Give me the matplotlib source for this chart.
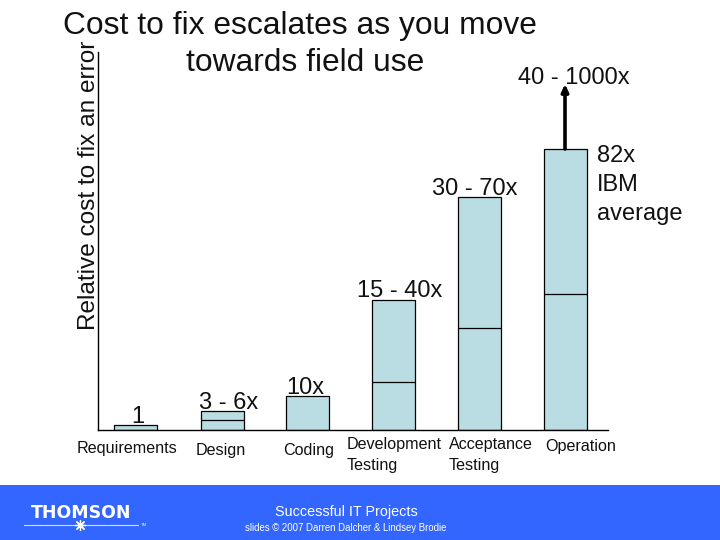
import matplotlib
matplotlib.use("Agg")
import matplotlib.pyplot as plt
from matplotlib.patches import Rectangle

plt.rcParams['font.family'] = ['Liberation Sans', 'DejaVu Sans']

W, H = 720, 540
categories = ["Requirements", "Design", "Coding", "Development\nTesting", "Acceptance\nTesting", "Operation"]
bar_tops = [5, 19, 34, 130, 233, 281]
bar_marks = [None, 10, None, 48, 102, 136]
range_labels = ["1", "3 - 6x", "10x", "15 - 40x", "30 - 70x", "40 - 1000x"]
arrow_tip = 346
y_label = "Relative cost to fix an error"
title_lines = ["Cost to fix escalates as you move", "towards field use"]
note = "82x\nIBM\naverage"
footer_title = "Successful IT Projects"
footer_sub = "slides © 2007 Darren Dalcher & Lindsey Brodie"
logo = "THOMSON"

BAR = '#b9dde2'
BLUE = '#3366ff'

fig = plt.figure(figsize=(W/100, H/100), dpi=100, facecolor='white')

def fx(px): return px / W
def fy(py): return 1 - py / H

ax = fig.add_axes([98/W, 1 - 430/H, (608-98)/W, (430-52)/H])
ax.set_xlim(98, 608)
ax.set_ylim(0, 378)
for s in ['top', 'right']:
    ax.spines[s].set_visible(False)
for s in ['left', 'bottom']:
    ax.spines[s].set_linewidth(1.0)
    ax.spines[s].set_color('black')
ax.set_xticks([]); ax.set_yticks([])
ax.patch.set_alpha(0)

centers = [135.5, 222, 307, 393, 479, 565]
bw = 43
ax.bar(centers, bar_tops, width=bw, color=BAR, edgecolor='black', linewidth=0.9, zorder=2)
for c, m in zip(centers, bar_marks):
    if m is not None:
        ax.plot([c - bw/2, c + bw/2], [m, m], color='black', lw=0.9, zorder=3, solid_capstyle='butt')

ax.annotate("", xy=(centers[5], arrow_tip), xytext=(centers[5], bar_tops[5]),
            arrowprops=dict(arrowstyle='-|>,head_length=0.3,head_width=0.14', lw=2.6,
                            color='black', shrinkA=0, shrinkB=0, mutation_scale=14), zorder=4)

fs = 17
range_pos = [(138, 417), (229, 403), (305, 388), (400, 291), (474.5, 189), (574, 78)]
for (x, y), t in zip(range_pos, range_labels):
    fig.text(fx(x), fy(y), t, ha='center', va='center', fontsize=fs, color='#111111')

fig.text(fx(597), fy(185), note, ha='left', va='center', fontsize=fs, linespacing=1.39, color='#111111')

label_pos = [(77, 449), (196, 451), (283, 451), (347, 455), (449, 455), (545, 447)]
for (x, y), t in zip(label_pos, categories):
    fig.text(fx(x), fy(y), t, ha='left', va='center', fontsize=11.6, color='#111111', linespacing=1.5)

fig.text(fx(300), fy(26), title_lines[0], ha='center', va='center', fontsize=22.9, color='#111111')
fig.text(fx(305), fy(63), title_lines[1], ha='center', va='center', fontsize=22.9, color='#111111')
fig.text(fx(89), fy(185.5), y_label, rotation=90, ha='center', va='center', fontsize=17.6, color='#111111')

fig.patches.append(Rectangle((0, 0), 1, 1 - 485/H, transform=fig.transFigure, facecolor=BLUE, edgecolor='none'))
fig.text(fx(346), fy(512), footer_title, ha='center', va='center', fontsize=10.4, color='white')
fig.text(fx(346), fy(528), footer_sub, ha='center', va='center', fontsize=6.9, color='white')
fig.text(fx(81), fy(512.5), logo, ha='center', va='center', fontsize=12.5, color='white',
         fontweight='bold', family='DejaVu Sans')
fig.add_artist(plt.Line2D([fx(24), fx(138)], [fy(525), fy(525)], color='white', lw=0.8, alpha=0.8))
fig.add_artist(plt.Line2D([fx(80)], [fy(525)], marker=(8, 2, 0), ms=8, mew=0.9, color='white', ls='none'))
fig.text(fx(144), fy(525.5), "TM", ha='center', va='center', fontsize=3, color='white')

fig.savefig('out.png', dpi=100)
